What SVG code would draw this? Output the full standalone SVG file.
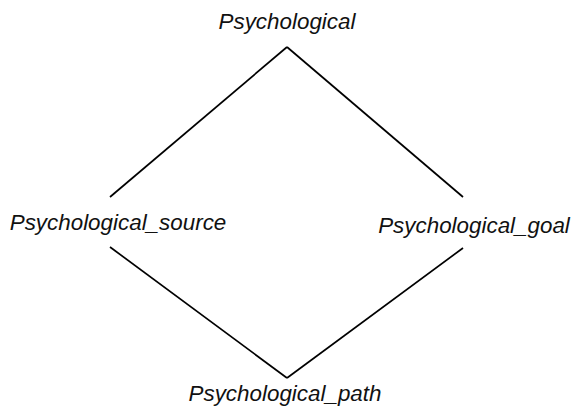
<svg xmlns="http://www.w3.org/2000/svg" width="575" height="416" viewBox="0 0 575 416">
<style>
text{font-family:"Liberation Sans",Arial,sans-serif;font-style:italic;font-size:22.4px;fill:#111;text-anchor:middle}
.e{stroke:#000;stroke-width:1.7;fill:none}
</style>
<rect width="575" height="416" fill="#fff"/>
<g id="connectors">
<line class="e" x1="287" y1="47" x2="110" y2="197"/>
<line class="e" x1="287" y1="47" x2="463" y2="197"/>
<line class="e" x1="110" y1="247" x2="287" y2="378"/>
<line class="e" x1="463" y1="248" x2="287" y2="378"/>
</g>
<g id="psychological"><text x="287" y="29">Psychological</text></g>
<g id="psychological_source"><text x="118" y="230">Psychological_source</text></g>
<g id="psychological_goal"><text x="474" y="233">Psychological_goal</text></g>
<g id="psychological_path"><text x="285" y="401">Psychological_path</text></g>
</svg>
